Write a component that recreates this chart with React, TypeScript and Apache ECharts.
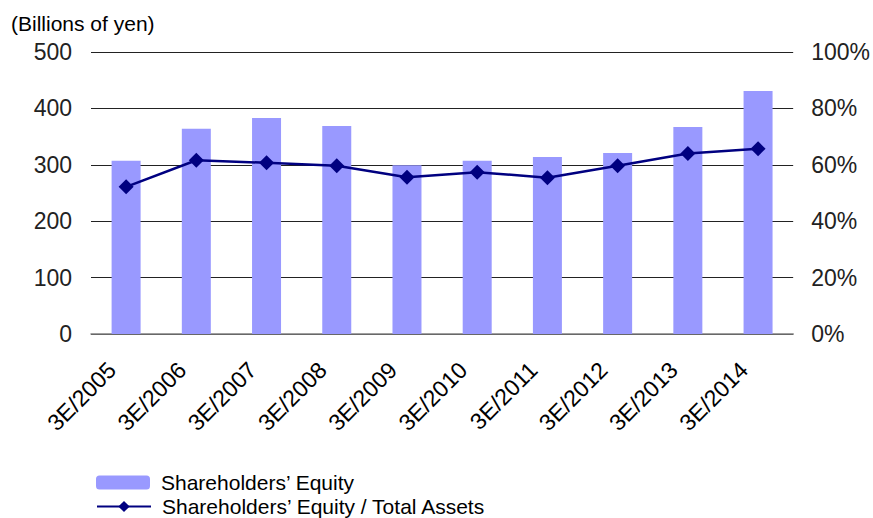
import React, { useEffect, useRef } from "react";
import * as echarts from "echarts";

const categories = ["3E/2005", "3E/2006", "3E/2007", "3E/2008", "3E/2009", "3E/2010", "3E/2011", "3E/2012", "3E/2013", "3E/2014"];
const equity = [307, 364, 383, 369, 299, 307, 314, 321, 367, 431];
const ratio = [52.2, 61.6, 60.7, 59.7, 55.6, 57.4, 55.4, 59.7, 64.0, 65.7];
const leftTicks = { min: 0, max: 500, interval: 100 };
const rightTicks = { min: 0, max: 100, interval: 20 };
const barName = "Shareholders’ Equity";
const lineName = "Shareholders’ Equity / Total Assets";
const unitLabel = "(Billions of yen)";

const FONT = "'Liberation Sans', Arial, sans-serif";

export default function App() {
  const ref = useRef<HTMLDivElement>(null);
  useEffect(() => {
    if (!ref.current) return;
    const chart = echarts.init(ref.current, undefined, { renderer: "svg" });
    chart.setOption({
      animation: false,
      textStyle: { fontFamily: FONT },
      title: {
        text: unitLabel,
        left: 6,
        top: 8,
        textStyle: { fontSize: 21, fontWeight: "normal", color: "#000", fontFamily: FONT },
      },
      legend: [
        {
          data: [barName],
          left: 96,
          top: 472,
          orient: "vertical",
          padding: 0,
          itemWidth: 54,
          itemHeight: 14,
          itemGap: 0,
          textStyle: { fontSize: 21, color: "#000", fontFamily: FONT, padding: [0, 0, 0, 6] },
        },
        {
          data: [lineName],
          left: 96,
          top: 496,
          orient: "vertical",
          padding: 0,
          itemWidth: 54,
          itemHeight: 14,
          itemGap: 0,
          textStyle: { fontSize: 21, color: "#000", fontFamily: FONT, padding: [0, 0, 0, 6] },
        },
      ],
      grid: { left: 91, right: 76, top: 52, bottom: 184, containLabel: false },
      xAxis: {
        type: "category",
        data: categories,
        axisLine: { lineStyle: { color: "#808080", width: 1.5 } },
        axisTick: { inside: true, length: 7, lineStyle: { color: "#333" } },
        axisLabel: {
          rotate: 45,
          fontSize: 23,
          color: "#000",
          margin: 18,
          padding: [0, 20, 0, 0],
          interval: 0,
          fontFamily: FONT,
        },
      },
      yAxis: [
        {
          type: "value",
          ...leftTicks,
          axisLine: { show: false },
          axisTick: { show: false },
          splitLine: { lineStyle: { color: "#222", width: 1 } },
          axisLabel: { fontSize: 23, color: "#222", margin: 19, fontFamily: FONT },
        },
        {
          type: "value",
          ...rightTicks,
          axisLine: { show: false },
          axisTick: { show: false },
          splitLine: { show: false },
          axisLabel: { fontSize: 23, color: "#222", margin: 18, formatter: "{value}%", fontFamily: FONT },
        },
      ],
      series: [
        {
          name: barName,
          type: "bar",
          data: equity,
          barWidth: 29,
          itemStyle: { color: "#9999FF" },
        },
        {
          name: lineName,
          type: "line",
          yAxisIndex: 1,
          data: ratio,
          symbol: "diamond",
          symbolSize: 15,
          lineStyle: { color: "#000080", width: 2.5 },
          itemStyle: { color: "#000080" },
        },
      ],
    });
    return () => chart.dispose();
  }, []);
  return (
    <div
      ref={ref}
      style={{ position: "absolute", left: 0, top: 0, width: 873, height: 518 }}
    />
  );
}
